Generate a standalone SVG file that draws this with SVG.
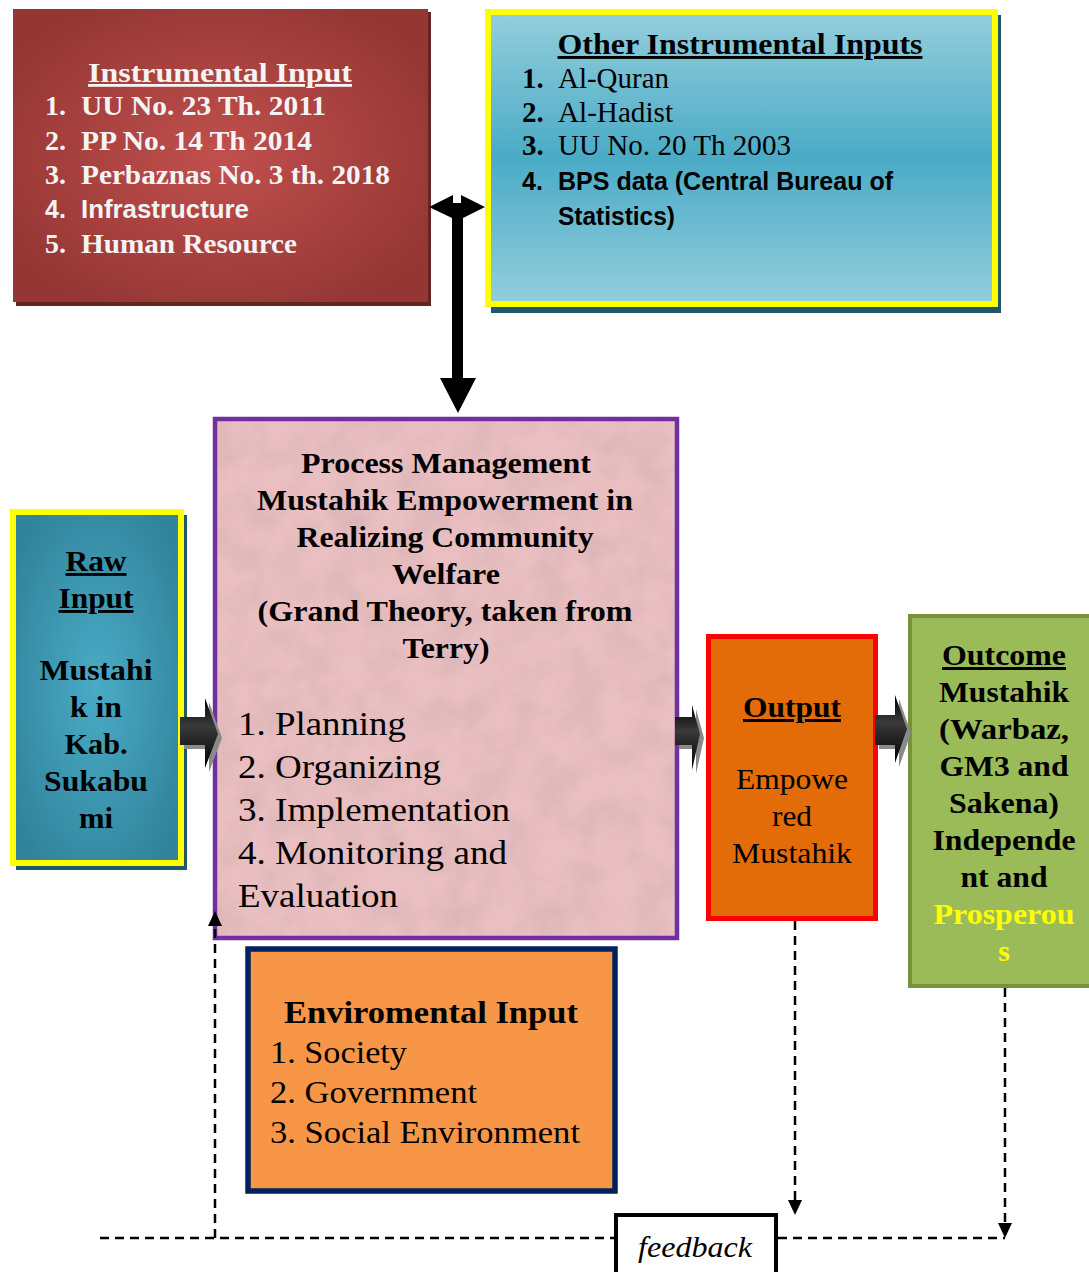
<svg xmlns="http://www.w3.org/2000/svg" width="1089" height="1272" viewBox="0 0 1089 1272">
<style>
.serif{font-family:"Liberation Serif","Times New Roman",serif}
.sans{font-family:"Liberation Sans",Arial,sans-serif}
.b{font-weight:bold}
.w{fill:#f4f4f4}
.k{fill:#000}
.ul{text-decoration:underline}
.dash{fill:none;stroke:#000;stroke-width:2.5;stroke-dasharray:9 6}
</style>
<defs>
<radialGradient id="gRed" cx="0.5" cy="0.5" r="0.6">
<stop offset="0" stop-color="#c0504d"/><stop offset="1" stop-color="#943634"/>
</radialGradient>
<linearGradient id="gBlue" x1="0" y1="0" x2="0" y2="1">
<stop offset="0" stop-color="#94cedd"/><stop offset="0.5" stop-color="#4aabc6"/><stop offset="1" stop-color="#94cedd"/>
</linearGradient>
<radialGradient id="gTeal" cx="0.5" cy="0.5" r="0.6">
<stop offset="0" stop-color="#4aabc6"/><stop offset="1" stop-color="#31849b"/>
</radialGradient>
<linearGradient id="gArr" x1="0" y1="0" x2="0" y2="1">
<stop offset="0" stop-color="#000"/><stop offset="0.4" stop-color="#3a3a3a"/><stop offset="1" stop-color="#000"/>
</linearGradient>
<filter id="tex" x="0" y="0" width="1" height="1">
<feTurbulence type="fractalNoise" baseFrequency="0.03" numOctaves="3" seed="4"/>
<feColorMatrix type="matrix" values="0 0 0 0 0.55  0 0 0 0 0.35  0 0 0 0 0.37  0 0 0 1.2 -0.45"/>
</filter>
</defs>

<g id="instrumental-input">
<rect x="16" y="12" width="415" height="294" fill="#632523"/>
<rect x="13" y="9" width="415" height="293" fill="url(#gRed)"/>
<text class="serif b w ul" x="220" y="82" font-size="28" text-anchor="middle" textLength="264" lengthAdjust="spacingAndGlyphs">Instrumental Input</text>
<g class="serif b w" font-size="28">
<text x="45" y="115">1.</text><text x="81" y="115" textLength="245" lengthAdjust="spacingAndGlyphs">UU No. 23 Th. 2011</text>
<text x="45" y="150">2.</text><text x="81" y="150" textLength="231" lengthAdjust="spacingAndGlyphs">PP No. 14 Th 2014</text>
<text x="45" y="184">3.</text><text x="81" y="184" textLength="309" lengthAdjust="spacingAndGlyphs">Perbaznas No. 3 th. 2018</text>
<text x="45" y="253">5.</text><text x="81" y="253" textLength="216" lengthAdjust="spacingAndGlyphs">Human Resource</text>
</g>
<g class="sans b w" font-size="25">
<text x="45" y="218">4.</text><text x="81" y="218" textLength="168" lengthAdjust="spacingAndGlyphs">Infrastructure</text>
</g>
</g>

<g id="other-instrumental-inputs">
<rect x="491" y="15" width="510" height="298" fill="#215868"/>
<rect x="488" y="12" width="507" height="292" fill="url(#gBlue)" stroke="#ffff00" stroke-width="6"/>
<text class="serif b k ul" x="740" y="54" font-size="29" text-anchor="middle" textLength="365" lengthAdjust="spacingAndGlyphs">Other Instrumental Inputs</text>
<g class="serif k" font-size="29">
<text class="b" x="522" y="88">1.</text><text x="558" y="88" textLength="111" lengthAdjust="spacingAndGlyphs">Al-Quran</text>
<text class="b" x="522" y="122">2.</text><text x="558" y="122" textLength="115" lengthAdjust="spacingAndGlyphs">Al-Hadist</text>
<text class="b" x="522" y="155">3.</text><text x="558" y="155" textLength="233" lengthAdjust="spacingAndGlyphs">UU No. 20 Th 2003</text>
</g>
<g class="sans b k" font-size="25">
<text x="522" y="190">4.</text><text x="558" y="190" textLength="335" lengthAdjust="spacingAndGlyphs">BPS data (Central Bureau of</text>
<text x="558" y="225" textLength="117" lengthAdjust="spacingAndGlyphs">Statistics)</text>
</g>
</g>

<g id="process">
<rect x="215" y="419" width="462" height="519" fill="#e9bfc1"/>
<rect x="215" y="419" width="462" height="519" filter="url(#tex)" opacity="0.5"/>
<rect x="215" y="419" width="462" height="519" fill="none" stroke="#7030a0" stroke-width="4.5"/>
<g class="serif b k" font-size="30" text-anchor="middle">
<text x="446" y="473" textLength="290" lengthAdjust="spacingAndGlyphs">Process Management</text>
<text x="445" y="510" textLength="376" lengthAdjust="spacingAndGlyphs">Mustahik Empowerment in</text>
<text x="445" y="547" textLength="297" lengthAdjust="spacingAndGlyphs">Realizing Community</text>
<text x="446" y="584" textLength="108" lengthAdjust="spacingAndGlyphs">Welfare</text>
<text x="445" y="621" textLength="375" lengthAdjust="spacingAndGlyphs">(Grand Theory, taken from</text>
<text x="446" y="658" textLength="87" lengthAdjust="spacingAndGlyphs">Terry)</text>
</g>
<g class="serif k" font-size="33">
<text x="238" y="735" textLength="168" lengthAdjust="spacingAndGlyphs">1. Planning</text>
<text x="238" y="778" textLength="203" lengthAdjust="spacingAndGlyphs">2. Organizing</text>
<text x="238" y="821" textLength="272" lengthAdjust="spacingAndGlyphs">3. Implementation</text>
<text x="238" y="864" textLength="269" lengthAdjust="spacingAndGlyphs">4. Monitoring and</text>
<text x="238" y="907" textLength="160" lengthAdjust="spacingAndGlyphs">Evaluation</text>
</g>
</g>

<g id="raw-input">
<rect x="16" y="515" width="171" height="355" fill="#215868"/>
<rect x="13" y="512" width="168" height="351" fill="url(#gTeal)" stroke="#ffff00" stroke-width="6"/>
<g class="serif b k" font-size="29" text-anchor="middle">
<text class="ul" x="96" y="571" textLength="61" lengthAdjust="spacingAndGlyphs">Raw</text>
<text class="ul" x="96" y="608" textLength="75" lengthAdjust="spacingAndGlyphs">Input</text>
<text x="96" y="680" textLength="113" lengthAdjust="spacingAndGlyphs">Mustahi</text>
<text x="96" y="717" textLength="52" lengthAdjust="spacingAndGlyphs">k in</text>
<text x="96" y="754" textLength="63" lengthAdjust="spacingAndGlyphs">Kab.</text>
<text x="96" y="791" textLength="104" lengthAdjust="spacingAndGlyphs">Sukabu</text>
<text x="96" y="828" textLength="34" lengthAdjust="spacingAndGlyphs">mi</text>
</g>
</g>

<g id="output">
<rect x="708.5" y="636.5" width="167" height="282" fill="#e36c09" stroke="#ff0000" stroke-width="5"/>
<g class="serif k" font-size="30" text-anchor="middle">
<text class="b ul" x="792" y="717" textLength="98" lengthAdjust="spacingAndGlyphs">Output</text>
<text x="792" y="789" textLength="112" lengthAdjust="spacingAndGlyphs">Empowe</text>
<text x="792" y="826" textLength="40" lengthAdjust="spacingAndGlyphs">red</text>
<text x="792" y="863" textLength="120" lengthAdjust="spacingAndGlyphs">Mustahik</text>
</g>
</g>

<g id="outcome">
<rect x="910" y="616" width="185" height="370" fill="#9bbb59" stroke="#76923c" stroke-width="4"/>
<g class="serif b k" font-size="30" text-anchor="middle">
<text class="ul" x="1004" y="665" textLength="124" lengthAdjust="spacingAndGlyphs">Outcome</text>
<text x="1004" y="702" textLength="130" lengthAdjust="spacingAndGlyphs">Mustahik</text>
<text x="1004" y="739" textLength="130" lengthAdjust="spacingAndGlyphs">(Warbaz,</text>
<text x="1004" y="776" textLength="129" lengthAdjust="spacingAndGlyphs">GM3 and</text>
<text x="1004" y="813" textLength="110" lengthAdjust="spacingAndGlyphs">Sakena)</text>
<text x="1004" y="850" textLength="143" lengthAdjust="spacingAndGlyphs">Independe</text>
<text x="1004" y="887" textLength="87" lengthAdjust="spacingAndGlyphs">nt and</text>
<text x="1004" y="924" fill="#ffff00" textLength="141" lengthAdjust="spacingAndGlyphs">Prosperou</text>
<text x="1004" y="961" fill="#ffff00">s</text>
</g>
</g>

<g id="environmental-input">
<rect x="248" y="949" width="367" height="242" fill="#f79646" stroke="#002060" stroke-width="5.5"/>
<text class="serif b k" x="431" y="1023" font-size="31" text-anchor="middle" textLength="294" lengthAdjust="spacingAndGlyphs">Enviromental Input</text>
<g class="serif k" font-size="31">
<text x="270" y="1063" textLength="137" lengthAdjust="spacingAndGlyphs">1. Society</text>
<text x="270" y="1103" textLength="207" lengthAdjust="spacingAndGlyphs">2. Government</text>
<text x="270" y="1143" textLength="310" lengthAdjust="spacingAndGlyphs">3. Social Environment</text>
</g>
</g>

<g id="feedback">
<rect x="616" y="1215" width="160" height="70" fill="#fff" stroke="#000" stroke-width="4"/>
<text class="serif k" x="695" y="1257" font-size="30" font-style="italic" text-anchor="middle" textLength="114" lengthAdjust="spacingAndGlyphs">feedback</text>
</g>

<g id="connectors">
<polygon points="429,207 453,195 453,203 461,203 461,195 485,207 463,218 463,378 476,378 458,413 440,378 452,378 452,218" fill="#000"/>
<g id="arrow1">
<polygon points="184,721 209,721 209,702 222,738 209,772 209,749 184,749" fill="#8a8a8a"/>
<polygon points="180,717 205,717 205,698 218,734 205,768 205,745 180,745" fill="url(#gArr)"/>
</g>
<g id="arrow2">
<polygon points="679,721 696,721 696,709 704,738 696,774 696,749 679,749" fill="#8a8a8a"/>
<polygon points="675,717 692,717 692,705 700,734 692,770 692,745 675,745" fill="url(#gArr)"/>
</g>
<g id="arrow3">
<polygon points="879,719 899,719 899,699 911,733 899,767 899,749 879,749" fill="#8a8a8a"/>
<polygon points="875,715 895,715 895,695 907,729 895,763 895,745 875,745" fill="url(#gArr)"/>
</g>
<polyline class="dash" points="100,1238 614,1238"/>
<polyline class="dash" points="778,1238 1005,1238"/>
<line class="dash" x1="215" y1="1238" x2="215" y2="926"/>
<polygon points="215,911 208,926 222,926" fill="#000"/>
<line class="dash" x1="795" y1="921" x2="795" y2="1201"/>
<polygon points="795,1215 788,1200 802,1200" fill="#000"/>
<line class="dash" x1="1005" y1="988" x2="1005" y2="1224"/>
<polygon points="1005,1238 998,1223 1012,1223" fill="#000"/>
</g>
</svg>
